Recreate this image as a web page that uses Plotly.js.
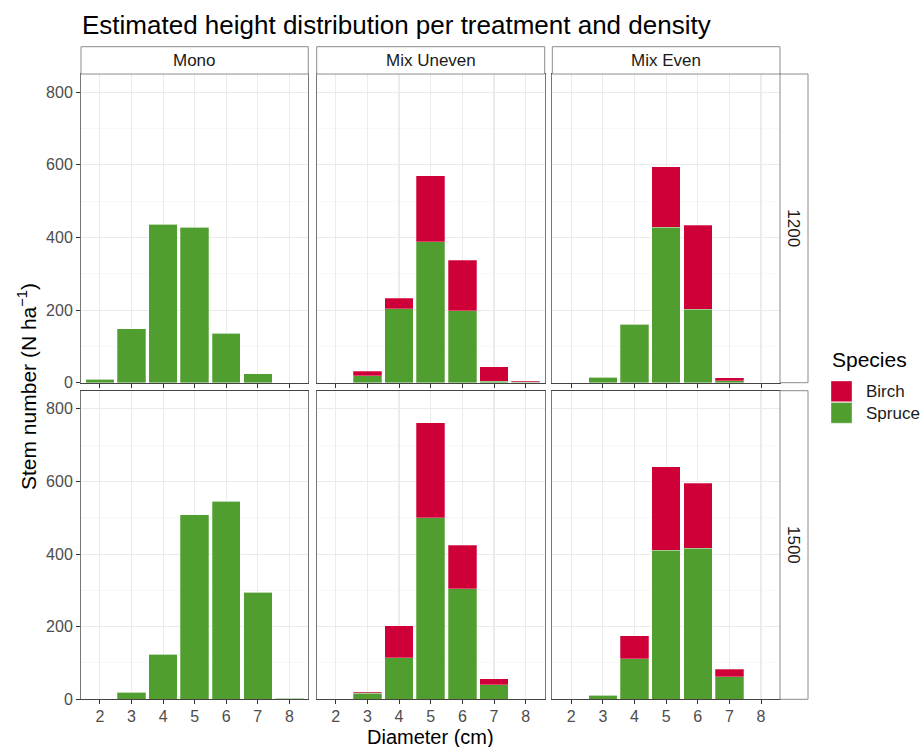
<!DOCTYPE html>
<html>
<head>
<meta charset="utf-8">
<script src="https://cdn.plot.ly/plotly-3.0.1.min.js"></script>
<style>html,body{margin:0;padding:0;background:#fff}#chart{width:924px;height:747px}</style>
</head>
<body>
<div id="chart"></div>
<script>
// ---- data ----
const diameters = [2, 3, 4, 5, 6, 7, 8];
const treatments = ['Mono', 'Mix Uneven', 'Mix Even'];
const densities = ['1200', '1500'];
const species = ['Birch', 'Spruce'];

const spruce_mono_1200   = [10, 149, 436, 428, 136, 24, 0];
const birch_mono_1200    = [0, 0, 0, 0, 0, 0, 0];
const spruce_uneven_1200 = [0, 19, 203, 388, 198, 4, 1];
const birch_uneven_1200  = [0, 12, 29, 182, 139, 40, 3];
const spruce_even_1200   = [0, 15, 161, 428, 202, 6, 0];
const birch_even_1200    = [0, 0, 0, 167, 231, 8, 0];

const spruce_mono_1500   = [0, 19, 124, 509, 545, 295, 3];
const birch_mono_1500    = [0, 0, 0, 0, 0, 0, 0];
const spruce_uneven_1500 = [2, 16, 115, 500, 304, 40, 2];
const birch_uneven_1500  = [0, 4, 88, 262, 120, 16, 0];
const spruce_even_1500   = [0, 11, 112, 411, 416, 62, 0];
const birch_even_1500    = [0, 0, 63, 230, 179, 21, 0];

const yTicks = [0, 200, 400, 600, 800];

const sprucePanels = [
  [spruce_mono_1200, spruce_uneven_1200, spruce_even_1200],
  [spruce_mono_1500, spruce_uneven_1500, spruce_even_1500]
];
const birchPanels = [
  [birch_mono_1200, birch_uneven_1200, birch_even_1200],
  [birch_mono_1500, birch_uneven_1500, birch_even_1500]
];

// ---- style / layout ----
const W = 924, H = 747;
const colors = { Birch: '#CE0037', Spruce: '#509E2F' };
const colPx = [[81, 308.3], [316.7, 544.7], [552.3, 780]];
const rowPx = [[74, 382.7], [390.7, 699.3]];
const stripTop = 46.7, stripRightW = 28;
const FONT = 'Liberation Sans, Arial, sans-serif';

const px2x = v => v / W;
const px2y = v => 1 - v / H;

const traces = [];
const layout = {
  width: W, height: H,
  margin: { l: 0, r: 0, t: 0, b: 0 },
  paper_bgcolor: '#fff', plot_bgcolor: '#fff',
  font: { family: FONT, color: '#1a1a1a' },
  barmode: 'stack',
  bargap: 0,
  showlegend: false,
  shapes: [], annotations: []
};

for (let r = 0; r < 2; r++) {
  for (let c = 0; c < 3; c++) {
    const i = r * 3 + c + 1;
    const xa = 'xaxis' + (i === 1 ? '' : i);
    const ya = 'yaxis' + (i === 1 ? '' : i);
    const xr = 'x' + (i === 1 ? '' : i);
    const yr = 'y' + (i === 1 ? '' : i);
    layout[xa] = {
      domain: [px2x(colPx[c][0]), px2x(colPx[c][1])],
      anchor: yr, range: [1.4, 8.6],
      tickmode: 'array', tickvals: diameters, ticktext: diameters.map(String),
      showticklabels: r === 1,
      ticks: 'outside', ticklen: 4, tickcolor: '#333', tickwidth: 1,
      ticklabelstandoff: -2,
      tickfont: { size: 16, color: '#4d4d4d', family: FONT },
      showgrid: true, gridcolor: '#ebebeb', gridwidth: 1.1,
      showline: true, mirror: true, linecolor: '#444', linewidth: 1,
      zeroline: false, fixedrange: true
    };
    layout[ya] = {
      domain: [px2y(rowPx[r][1]), px2y(rowPx[r][0])],
      anchor: xr, range: [0, 850],
      tickmode: 'array', tickvals: yTicks,
      showticklabels: c === 0,
      ticks: c === 0 ? 'outside' : '', ticklen: 4, tickcolor: '#333', tickwidth: 1,
      tickfont: { size: 16, color: '#4d4d4d', family: FONT },
      showgrid: true, gridcolor: '#ebebeb', gridwidth: 1.1,
      minor: { tickmode: 'array', tickvals: [100, 300, 500, 700], showgrid: true, gridcolor: '#f3f3f3', gridwidth: 0.6, ticks: '' },
      showline: true, mirror: true, linecolor: '#777', linewidth: 1,
      zeroline: false, fixedrange: true
    };
    traces.push({
      type: 'bar', name: 'Spruce', x: diameters, y: sprucePanels[r][c],
      xaxis: xr, yaxis: yr, width: 0.9,
      marker: { color: colors.Spruce, line: { color: 'rgba(255,255,255,0.45)', width: 0.6 } },
      hoverinfo: 'x+y+name'
    });
    traces.push({
      type: 'bar', name: 'Birch', x: diameters, y: birchPanels[r][c],
      xaxis: xr, yaxis: yr, width: 0.9,
      marker: { color: colors.Birch, line: { color: 'rgba(255,255,255,0.45)', width: 0.6 } },
      hoverinfo: 'x+y+name'
    });
  }
}

// strips (top)
for (let c = 0; c < 3; c++) {
  layout.shapes.push({
    type: 'rect', xref: 'paper', yref: 'paper',
    x0: px2x(colPx[c][0]), x1: px2x(colPx[c][1]),
    y0: px2y(rowPx[0][0]), y1: px2y(stripTop),
    fillcolor: '#fff', line: { color: '#8c8c8c', width: 1 }
  });
  layout.annotations.push({
    xref: 'paper', yref: 'paper',
    x: px2x((colPx[c][0] + colPx[c][1]) / 2), y: px2y((stripTop + rowPx[0][0]) / 2),
    text: treatments[c], showarrow: false, xanchor: 'center', yanchor: 'middle',
    font: { size: 17, color: '#1a1a1a', family: FONT }
  });
}
// strips (right)
for (let r = 0; r < 2; r++) {
  layout.shapes.push({
    type: 'rect', xref: 'paper', yref: 'paper',
    x0: px2x(colPx[2][1]), x1: px2x(colPx[2][1] + stripRightW),
    y0: px2y(rowPx[r][1]), y1: px2y(rowPx[r][0]),
    fillcolor: '#fff', line: { color: '#8c8c8c', width: 1 }
  });
  layout.annotations.push({
    xref: 'paper', yref: 'paper',
    x: px2x(colPx[2][1] + stripRightW / 2), y: px2y((rowPx[r][0] + rowPx[r][1]) / 2),
    text: densities[r], showarrow: false, textangle: 90, xanchor: 'center', yanchor: 'middle',
    font: { size: 17, color: '#1a1a1a', family: FONT }
  });
}

// legend (manual, ggplot style)
layout.annotations.push({
  xref: 'paper', yref: 'paper', x: px2x(830), y: px2y(359),
  xanchor: 'left', yanchor: 'middle', showarrow: false,
  text: 'Species', font: { size: 21, color: '#000', family: FONT }
});
const keyTop = 381, keyH = 21.5;
species.forEach((s, k) => {
  const y0 = keyTop + k * keyH;
  layout.shapes.push({
    type: 'rect', xref: 'paper', yref: 'paper',
    x0: px2x(831), x1: px2x(852), y0: px2y(y0 + keyH - 0.8), y1: px2y(y0),
    fillcolor: colors[s], line: { color: 'rgba(255,255,255,0.6)', width: 0.6 }
  });
  layout.annotations.push({
    xref: 'paper', yref: 'paper', x: px2x(864), y: px2y(y0 + keyH / 2),
    xanchor: 'left', yanchor: 'middle', showarrow: false,
    text: s, font: { size: 17, color: '#1a1a1a', family: FONT }
  });
});

// title and axis titles
layout.annotations.push({
  xref: 'paper', yref: 'paper', x: px2x(80), y: px2y(25),
  xanchor: 'left', yanchor: 'middle', showarrow: false,
  text: 'Estimated height distribution per treatment and density',
  font: { size: 26, color: '#000', family: FONT }
});
layout.annotations.push({
  xref: 'paper', yref: 'paper', x: px2x((colPx[0][0] + colPx[2][1]) / 2), y: px2y(737),
  xanchor: 'center', yanchor: 'middle', showarrow: false,
  text: 'Diameter (cm)', font: { size: 20, color: '#000', family: FONT }
});
layout.annotations.push({
  xref: 'paper', yref: 'paper', x: px2x(27), y: px2y(387),
  xanchor: 'center', yanchor: 'middle', showarrow: false, textangle: -90,
  text: 'Stem number (N ha<sup>\u22121</sup>)', font: { size: 21, color: '#000', family: FONT }
});

Plotly.newPlot('chart', traces, layout, { staticPlot: true, displayModeBar: false });
</script>
</body>
</html>
